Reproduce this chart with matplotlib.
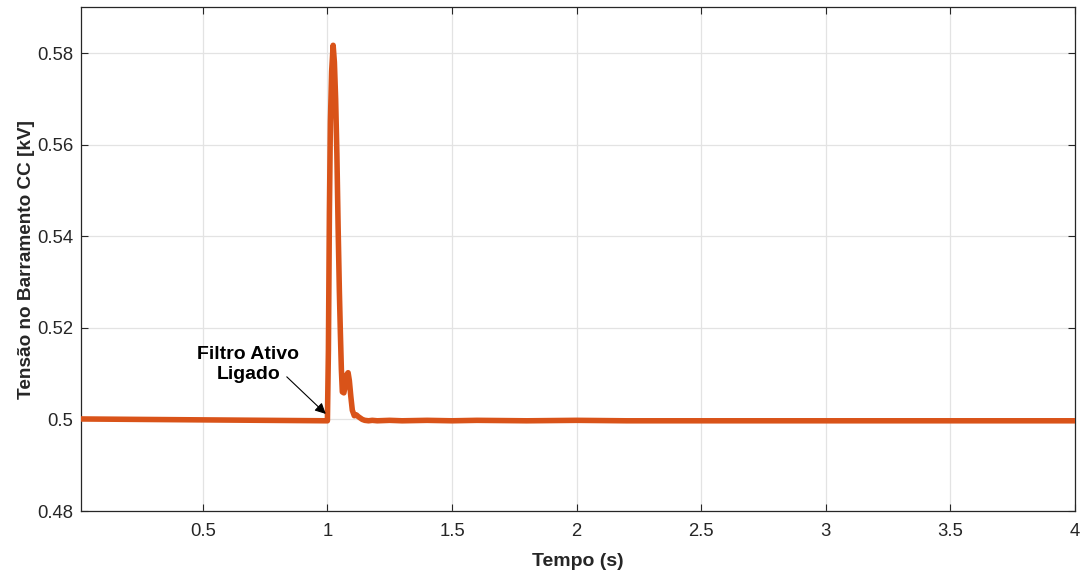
import matplotlib
matplotlib.use("Agg")
import matplotlib.pyplot as plt

plt.rcParams['font.family'] = ['Liberation Sans', 'DejaVu Sans']

# Data (time in s, voltage in kV)
tempo = [0.01, 0.25, 0.5, 0.75, 0.999, 1.000, 1.004, 1.008, 1.012, 1.017,
         1.023, 1.028, 1.033, 1.038, 1.043, 1.048, 1.052, 1.056, 1.060,
         1.066, 1.072, 1.078, 1.083, 1.088, 1.094, 1.100, 1.108, 1.116,
         1.124, 1.132, 1.140, 1.150, 1.165, 1.18, 1.20, 1.25, 1.30, 1.40,
         1.50, 1.60, 1.80, 2.00, 2.20, 2.50, 3.00, 3.50, 4.00]
tensao = [0.5001, 0.5000, 0.4999, 0.4998, 0.4997, 0.4997, 0.5150, 0.5450,
          0.5650, 0.5760, 0.5817, 0.5780, 0.5700, 0.5580, 0.5420, 0.5280,
          0.5190, 0.5110, 0.5060, 0.5058, 0.5075, 0.5098, 0.5102, 0.5085,
          0.5050, 0.5020, 0.5008, 0.5010, 0.5006, 0.5003, 0.5000, 0.4998,
          0.4997, 0.4998, 0.4997, 0.4998, 0.4997, 0.4998, 0.4997, 0.4998,
          0.4997, 0.4998, 0.4997, 0.4997, 0.4997, 0.4997, 0.4997]

x_ticks = [0.5, 1, 1.5, 2, 2.5, 3, 3.5, 4]
x_tick_labels = ['0.5', '1', '1.5', '2', '2.5', '3', '3.5', '4']
y_ticks = [0.48, 0.50, 0.52, 0.54, 0.56, 0.58]
y_tick_labels = ['0.48', '0.5', '0.52', '0.54', '0.56', '0.58']

annot_text = 'Filtro Ativo\nLigado'
annot_text_pos = (0.682, 0.5120)
annot_arrow_tail = (0.837, 0.5093)
annot_arrow_head = (0.9936, 0.5012)

axis_col = '#262626'
fig = plt.figure(figsize=(10.8, 5.74), dpi=100)
ax = fig.add_axes([80.7/1080, 1 - 511/574, (1075 - 80.7)/1080, (511 - 7.3)/574])

ax.plot(tempo, tensao, color='#D95319', linewidth=4.0, solid_joinstyle='round',
        solid_capstyle='round', zorder=3)

ax.set_xlim(0.01, 4)
ax.set_ylim(0.48, 0.59)
ax.set_xticks(x_ticks)
ax.set_xticklabels(x_tick_labels)
ax.set_yticks(y_ticks)
ax.set_yticklabels(y_tick_labels)

ax.grid(True, color='#e3e3e3', linewidth=0.9)
ax.set_axisbelow(True)
for s in ax.spines.values():
    s.set_color(axis_col)
    s.set_linewidth(0.9)
ax.tick_params(direction='in', length=5, width=0.8, colors=axis_col,
               labelsize=13.3, top=True, right=True)
ax.tick_params(axis='y', pad=5.5)
ax.tick_params(axis='x', pad=9)
for lab in ax.get_xticklabels() + ax.get_yticklabels():
    lab.set_color(axis_col)

ax.set_xlabel('Tempo (s)', fontsize=14, fontweight='bold', color=axis_col, labelpad=9)
ax.set_ylabel('Tensão no Barramento CC [kV]', fontsize=13.7, fontweight='bold',
              color=axis_col, labelpad=1)

ax.text(annot_text_pos[0], annot_text_pos[1], annot_text, ha='center', va='center',
        fontsize=14, fontweight='bold', color='black', linespacing=1.3)
ax.annotate('', xy=annot_arrow_head, xytext=annot_arrow_tail,
            arrowprops=dict(arrowstyle='-|>', color='black', lw=0.8,
                            shrinkA=0, shrinkB=0, mutation_scale=16))

fig.savefig('out.png', dpi=100)
